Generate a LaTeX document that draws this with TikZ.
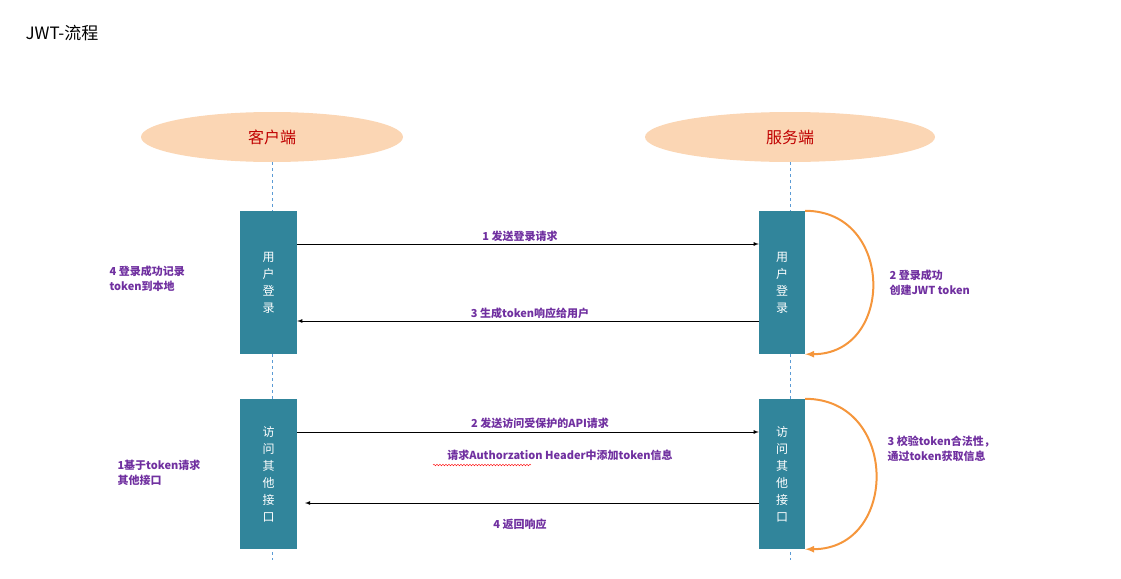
\documentclass[tikz,border=0pt]{standalone}
\usepackage{fontspec}
\setmainfont{Noto Sans CJK SC}
\usetikzlibrary{shapes.geometric,decorations.pathmorphing}
\definecolor{peach}{RGB}{251,214,180}
\definecolor{teal}{RGB}{49,133,155}
\definecolor{lblue}{RGB}{91,155,213}
\definecolor{purp}{RGB}{112,48,160}
\definecolor{orng}{RGB}{245,150,60}
\definecolor{cred}{RGB}{192,0,0}
\tikzset{
  actor/.style={ellipse, fill=peach, text=cred, font=\fontsize{16}{18}\selectfont},
  box/.style={fill=teal, text=white, align=center, font=\fontsize{12}{17}\selectfont},
  msg/.style={-latex, thick},
  lbl/.style={text=purp, font=\bfseries\fontsize{11}{15}\selectfont, align=left},
  loop/.style={-latex, orng, line width=2pt},
}
\begin{document}
\begin{tikzpicture}[x=1pt,y=-1pt]
  \useasboundingbox (0,0) rectangle (1121,578);
  \node[anchor=west, font=\fontsize{17}{20}\selectfont] (title) at (22,33) {JWT-流程};

  % actors
  \node[actor, minimum width=262, minimum height=50] (client) at (272,137) {客户端};
  \node[actor, minimum width=290, minimum height=50] (server) at (790,137) {服务端};
  \coordinate (cend) at (272,560);
  \coordinate (send) at (790,560);
  \draw[lblue, dashed] (client) -- (cend);
  \draw[lblue, dashed] (server) -- (send);

  % boxes
  \node[box, minimum width=57, minimum height=143] (login) at (268.5,282.5) {用\\户\\登\\录};
  \node[box, minimum width=46, minimum height=143] (slogin) at (782,282.5) {用\\户\\登\\录};
  \node[box, minimum width=57, minimum height=150] (api) at (268.5,474) {访\\问\\其\\他\\接\\口};
  \node[box, minimum width=46, minimum height=150] (sapi) at (782,474) {访\\问\\其\\他\\接\\口};

  % login
  \draw[msg] (login.east |- 0,244) -- (slogin.west |- 0,244);
  \draw[msg] (slogin.west |- 0,321) -- (login.east |- 0,321);
  \draw[loop] (slogin.north east) to[out=0, in=0, looseness=1.6] (slogin.south east);
  \node[lbl] (m1) at (520,236) {1 发送登录请求};
  \node[lbl] (m3) at (530,313) {3 生成token响应给用户};
  \node[lbl, anchor=west] (m2) at (886,283) {2 登录成功\\创建JWT token};
  \node[lbl, anchor=west] (m4) at (106,279) {4 登录成功记录\\token到本地};

  % api
  \draw[msg] (api.east |- 0,432) -- (sapi.west |- 0,432);
  \draw[msg] (sapi.west |- 0,503) -- (305,503);
  \draw[loop] (sapi.north east) to[out=0, in=0, looseness=1.6] (sapi.south east);
  \node[lbl] (a2) at (540,423) {2 发送访问受保护的API请求};
  \node[lbl] (a2b) at (560,455) {请求Authorzation Header中添加token信息};
  \draw[red, decorate, decoration={snake, amplitude=0.8, segment length=3}] (433,465) -- (531,465);
  \node[lbl] (a4) at (520,524) {4 返回响应};
  \node[lbl, anchor=west] (a3) at (884,449) {3 校验token合法性，\\通过token获取信息};
  \node[lbl, anchor=west] (a1) at (114,473) {1基于token请求\\其他接口};
\end{tikzpicture}
\end{document}
